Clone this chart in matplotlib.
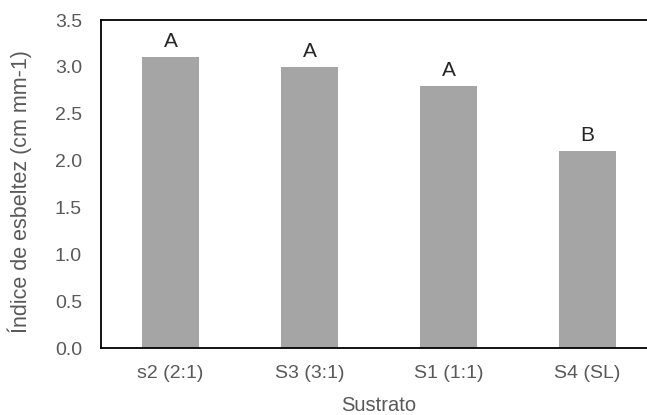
import matplotlib
matplotlib.use("Agg")
import matplotlib.pyplot as plt

categories = ["s2 (2:1)", "S3 (3:1)", "S1 (1:1)", "S4 (SL)"]
values = [3.1, 3.0, 2.8, 2.1]
letters = ["A", "A", "A", "B"]
yticks = [0.0, 0.5, 1.0, 1.5, 2.0, 2.5, 3.0, 3.5]

plt.rcParams['font.family'] = ['Liberation Sans', 'DejaVu Sans']

W, H = 647, 415
fig = plt.figure(figsize=(W / 100, H / 100), dpi=100)
ax = fig.add_axes([101 / W, (H - 348) / H, 556 / W, 328 / H])

x = list(range(len(categories)))
ax.bar(x, values, width=0.407, color="#A5A5A5", zorder=2)
ax.set_xlim(-0.5, 3.5)
ax.set_ylim(0, 3.5)
ax.set_yticks(yticks)
ax.set_yticklabels([f"{v:.1f}" for v in yticks])
ax.set_xticks(x)
ax.set_xticklabels(categories)

for xi, v, l in zip(x, values, letters):
    ax.annotate(l, (xi, v), xytext=(0, 7.2), textcoords="offset points",
                ha="center", va="baseline", fontsize=15, color="#262626")

ax.tick_params(axis="both", length=0, labelsize=14, labelcolor="#595959")
ax.tick_params(axis="y", pad=13.7)
ax.tick_params(axis="x", pad=12.5)
for side in ["left", "top", "bottom"]:
    ax.spines[side].set_color("#000000")
    ax.spines[side].set_linewidth(1.3)
ax.spines["right"].set_visible(False)

ax.set_ylabel("Índice de esbeltez (cm mm-1)", fontsize=15.5, color="#595959")
ax.yaxis.set_label_coords((32 - 101) / 556, 0.478)
ax.set_xlabel("Sustrato", fontsize=14.5, color="#595959", labelpad=10)

fig.savefig("out.png", dpi=100)
